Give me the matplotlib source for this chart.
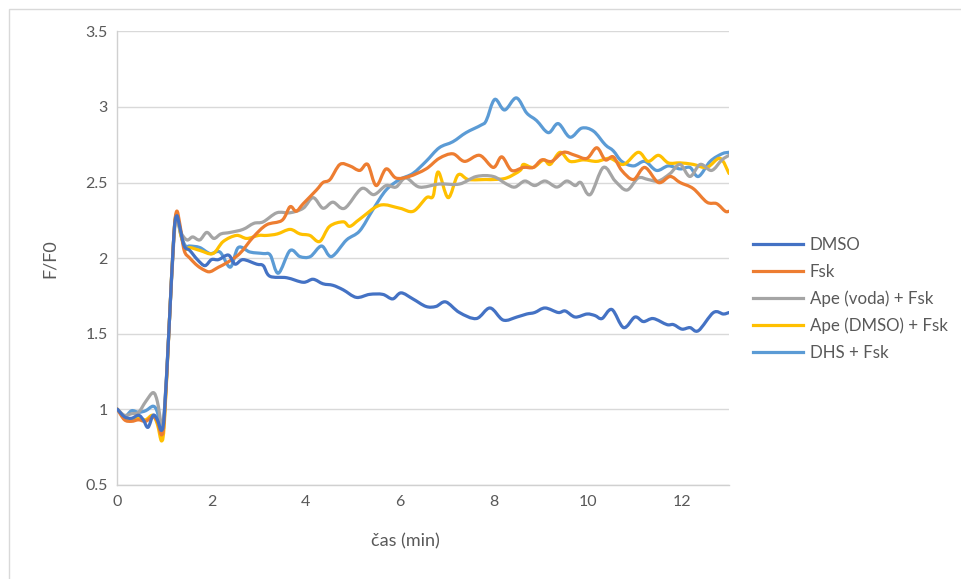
import matplotlib
matplotlib.use("Agg")
import matplotlib.pyplot as plt
import numpy as np
from matplotlib.path import Path
from matplotlib.patches import PathPatch, Rectangle
from matplotlib.lines import Line2D

# ---------------- data ----------------
series_names = ["DMSO", "Fsk", "Ape (voda) + Fsk", "Ape (DMSO) + Fsk", "DHS + Fsk"]
series_colors = ["#4472C4", "#ED7D31", "#A5A5A5", "#FFC000", "#5B9BD5"]

dmso_t = [0, 0.15, 0.3, 0.45, 0.55, 0.65, 0.76, 0.85, 0.94, 1.0, 1.1, 1.2, 1.26, 1.33, 1.42,
          1.54, 1.7, 1.86, 2.0, 2.15, 2.36, 2.5, 2.67, 2.96, 3.1, 3.24, 3.6, 3.95, 4.16, 4.37,
          4.58, 4.8, 5.08, 5.36, 5.64, 5.85, 6.03, 6.28, 6.56, 6.77, 6.98, 7.27, 7.63, 7.92,
          8.2, 8.49, 8.7, 8.87, 9.09, 9.37, 9.52, 9.73, 9.98, 10.15, 10.3, 10.51, 10.76, 11.0,
          11.18, 11.39, 11.68, 11.82, 12.0, 12.17, 12.35, 12.67, 12.88, 13.0]
dmso_v = [1.00, 0.95, 0.94, 0.96, 0.93, 0.88, 0.96, 0.93, 0.86, 0.98, 1.55, 2.15, 2.28, 2.20, 2.08,
          2.05, 1.99, 1.95, 1.99, 1.99, 2.02, 1.96, 1.99, 1.96, 1.95, 1.88, 1.87, 1.84, 1.86, 1.83,
          1.82, 1.79, 1.74, 1.76, 1.76, 1.73, 1.77, 1.73, 1.68, 1.68, 1.71, 1.64, 1.60, 1.67,
          1.59, 1.61, 1.63, 1.64, 1.67, 1.64, 1.65, 1.61, 1.63, 1.62, 1.60, 1.66, 1.54, 1.61,
          1.58, 1.60, 1.56, 1.56, 1.53, 1.54, 1.52, 1.64, 1.63, 1.64]

fsk_t = [0, 0.15, 0.3, 0.45, 0.6, 0.75, 0.85, 0.94, 1.0, 1.1, 1.2, 1.26, 1.33, 1.42, 1.54,
         1.7, 1.85, 1.97, 2.15, 2.33, 2.6, 2.89, 3.17, 3.5, 3.67, 3.8, 3.95, 4.23, 4.37, 4.52,
         4.73, 4.94, 5.15, 5.32, 5.5, 5.71, 5.92, 6.2, 6.56, 6.84, 7.13, 7.38, 7.7, 7.99, 8.17,
         8.38, 8.63, 8.84, 9.02, 9.23, 9.48, 9.73, 9.98, 10.19, 10.37, 10.54, 10.72, 10.97,
         11.21, 11.5, 11.75, 11.96, 12.24, 12.53, 12.74, 12.92, 13.0]
fsk_v = [1.00, 0.93, 0.92, 0.93, 0.92, 0.95, 0.92, 0.83, 0.95, 1.55, 2.15, 2.31, 2.22, 2.05, 2.00,
         1.95, 1.92, 1.91, 1.94, 1.97, 2.03, 2.14, 2.22, 2.25, 2.34, 2.31, 2.36, 2.45, 2.50, 2.52,
         2.62, 2.61, 2.58, 2.62, 2.48, 2.59, 2.53, 2.54, 2.59, 2.66, 2.69, 2.64, 2.68, 2.60, 2.67,
         2.58, 2.60, 2.60, 2.65, 2.64, 2.70, 2.68, 2.66, 2.73, 2.65, 2.67, 2.58, 2.52,
         2.60, 2.50, 2.54, 2.50, 2.46, 2.37, 2.36, 2.31, 2.31]

voda_t = [0, 0.15, 0.3, 0.45, 0.6, 0.76, 0.85, 0.94, 1.0, 1.1, 1.2, 1.26, 1.35, 1.48, 1.6,
          1.75, 1.9, 2.05, 2.2, 2.4, 2.67, 2.9, 3.1, 3.39, 3.67, 3.95, 4.16, 4.37, 4.58, 4.83,
          5.19, 5.45, 5.71, 5.92, 6.13, 6.42, 6.84, 7.27, 7.63, 7.99, 8.27, 8.45, 8.66, 8.87,
          9.09, 9.34, 9.55, 9.73, 9.85, 10.05, 10.33, 10.58, 10.83, 11.07, 11.28, 11.5, 11.75,
          11.96, 12.17, 12.39, 12.63, 12.85, 13.0]
voda_v = [1.00, 0.96, 0.97, 0.98, 1.05, 1.11, 1.05, 0.90, 1.00, 1.55, 2.12, 2.27, 2.17, 2.12, 2.14,
          2.12, 2.17, 2.13, 2.16, 2.17, 2.19, 2.23, 2.24, 2.30, 2.30, 2.33, 2.40, 2.33, 2.37, 2.33,
          2.46, 2.42, 2.48, 2.47, 2.53, 2.47, 2.49, 2.49, 2.54, 2.54, 2.49, 2.47, 2.51, 2.48,
          2.51, 2.47, 2.51, 2.48, 2.50, 2.42, 2.60, 2.51, 2.45, 2.53, 2.52, 2.51, 2.56,
          2.62, 2.54, 2.62, 2.58, 2.65, 2.68]

apedmso_t = [0, 0.15, 0.3, 0.45, 0.6, 0.75, 0.85, 0.94, 1.0, 1.1, 1.2, 1.26, 1.35, 1.45, 1.54,
             1.76, 2.03, 2.25, 2.53, 2.75, 3.0, 3.17, 3.4, 3.67, 3.88, 4.09, 4.3, 4.51, 4.8,
             4.94, 5.16, 5.58, 6.0, 6.29, 6.57, 6.71, 6.82, 7.03, 7.24, 7.46, 7.84, 8.0, 8.27,
             8.56, 8.63, 8.84, 9.06, 9.2, 9.41, 9.62, 9.91, 10.19, 10.47, 10.76, 11.07, 11.28,
             11.5, 11.71, 11.96, 12.24, 12.53, 12.81, 13.0]
apedmso_v = [1.00, 0.95, 0.93, 0.94, 0.93, 0.96, 0.90, 0.79, 0.92, 1.55, 2.15, 2.29, 2.15, 2.06, 2.07,
             2.05, 2.03, 2.11, 2.15, 2.13, 2.15, 2.15, 2.16, 2.19, 2.16, 2.15, 2.11, 2.21, 2.24,
             2.21, 2.26, 2.35, 2.33, 2.31, 2.40, 2.41, 2.57, 2.40, 2.55, 2.52, 2.52, 2.52, 2.53,
             2.58, 2.62, 2.60, 2.65, 2.62, 2.70, 2.64, 2.65, 2.64, 2.66, 2.62, 2.70, 2.64,
             2.68, 2.63, 2.63, 2.62, 2.60, 2.66, 2.56]

dhs_t = [0, 0.15, 0.3, 0.45, 0.6, 0.76, 0.85, 0.94, 1.0, 1.1, 1.2, 1.26, 1.35, 1.45, 1.54,
         1.75, 1.97, 2.18, 2.4, 2.57, 2.82, 3.1, 3.25, 3.42, 3.67, 3.88, 4.1, 4.34, 4.55, 4.87,
         5.15, 5.43, 5.71, 6.0, 6.28, 6.56, 6.84, 7.13, 7.41, 7.73, 7.84, 8.02, 8.23, 8.48,
         8.7, 8.91, 9.16, 9.37, 9.62, 9.87, 10.12, 10.37, 10.54, 10.72, 10.97, 11.21, 11.46,
         11.71, 11.96, 12.17, 12.35, 12.6, 12.85, 13.0]
dhs_v = [1.00, 0.95, 0.99, 0.98, 0.99, 1.02, 0.98, 0.85, 0.98, 1.55, 2.15, 2.28, 2.15, 2.08, 2.08,
         2.07, 2.03, 2.04, 1.94, 2.07, 2.04, 2.03, 2.02, 1.90, 2.05, 2.01, 2.01, 2.08, 2.01, 2.12,
         2.18, 2.32, 2.45, 2.52, 2.56, 2.64, 2.73, 2.77, 2.83, 2.88, 2.91, 3.05, 2.98, 3.06,
         2.96, 2.91, 2.83, 2.89, 2.80, 2.86, 2.84, 2.75, 2.71, 2.64, 2.61, 2.64, 2.58,
         2.61, 2.59, 2.60, 2.54, 2.64, 2.69, 2.70]

x_ticks = [0, 2, 4, 6, 8, 10, 12]
y_ticks = [0.5, 1, 1.5, 2, 2.5, 3, 3.5]
y_tick_labels = ["0.5", "1", "1.5", "2", "2.5", "3", "3.5"]
x_label = "čas (min)"
y_label = "F/F0"

# ---------------- helpers ----------------
def smooth_path(x, y):
    pts = np.column_stack([x, y]).astype(float)
    n = len(pts)
    verts = [pts[0]]
    codes = [Path.MOVETO]
    for i in range(n - 1):
        p0 = pts[i - 1] if i > 0 else pts[i]
        p1 = pts[i]
        p2 = pts[i + 1]
        p3 = pts[i + 2] if i + 2 < n else pts[i + 1]
        c1 = p1 + (p2 - p0) / 6.0
        c2 = p2 - (p3 - p1) / 6.0
        verts += [c1, c2, p2]
        codes += [Path.CURVE4] * 3
    return Path(verts, codes)

# ---------------- figure ----------------
plt.rcParams['font.family'] = ['Lato', 'DejaVu Sans']
W, H = 961, 579
fig = plt.figure(figsize=(W / 100, H / 100), dpi=100)

# outer chart border
fig.patches.append(Rectangle((9 / W, -0.1), 1.2, 1 - 9 / H + 0.1, transform=fig.transFigure,
                             fill=False, edgecolor="#D9D9D9", lw=1.0))

ax_l, ax_r, ax_t, ax_b = 117.4, 729.0, 31.4, 484.8
ax = fig.add_axes([ax_l / W, 1 - ax_b / H, (ax_r - ax_l) / W, (ax_b - ax_t) / H])
ax.set_xlim(0, 13)
ax.set_ylim(0.5, 3.5)

all_t = [dmso_t, fsk_t, voda_t, apedmso_t, dhs_t]
all_v = [dmso_v, fsk_v, voda_v, apedmso_v, dhs_v]
lw = 2.3
order = [4, 3, 2, 1, 0]
for k in order:
    p = smooth_path(all_t[k], all_v[k])
    patch = PathPatch(p, facecolor="none", edgecolor=series_colors[k], lw=lw,
                      capstyle="round", joinstyle="round", zorder=3 + (4 - k) * 0.01)
    ax.add_patch(patch)

ax.set_xticks(x_ticks)
ax.set_yticks(y_ticks)
ax.set_yticklabels(y_tick_labels)
ax.tick_params(length=0, labelsize=11.5, labelcolor="#595959", pad=7)
ax.grid(axis="y", color="#D9D9D9", lw=1.0)
ax.set_axisbelow(True)
for s in ["top", "right"]:
    ax.spines[s].set_visible(False)
for s in ["left", "bottom"]:
    ax.spines[s].set_color("#D0D0D0")
    ax.spines[s].set_linewidth(1.0)

fig.text(405 / W, 1 - 541 / H, x_label, ha="center", va="center", fontsize=13, color="#595959")
fig.text(50 / W, 1 - 259 / H, y_label, ha="center", va="center", rotation=90, fontsize=13,
         color="#595959")

handles = [Line2D([], [], color=c, lw=lw) for c in series_colors]
fig.legend(handles, series_names, loc="center left", bbox_to_anchor=(753 / W, 1 - 299 / H),
           frameon=False, fontsize=12.2, handlelength=2.95, handletextpad=0.4, labelspacing=0.62,
           borderpad=0, borderaxespad=0, labelcolor="#595959")

fig.savefig("out.png", dpi=100)
